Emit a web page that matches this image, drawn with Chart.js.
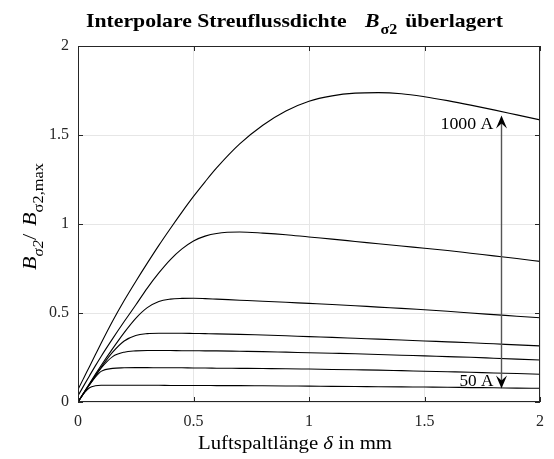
<!DOCTYPE html>
<html>
<head>
<meta charset="utf-8">
<script src="https://cdn.jsdelivr.net/npm/chart.js@4.4.1/dist/chart.umd.min.js"></script>
<style>
  html, body { margin: 0; padding: 0; background: #fff; }
  #wrap { width: 554px; height: 459px; }
</style>
</head>
<body>
<div id="wrap"><canvas id="myChart" width="554" height="459"></canvas></div>
<script>
// Luftspaltlänge in mm
const xValues = [0, 0.025, 0.05, 0.075, 0.1, 0.15, 0.2, 0.25, 0.3, 0.35, 0.4, 0.45, 0.5, 0.55, 0.6, 0.7, 0.8, 0.9, 1.0, 1.1, 1.2, 1.3, 1.4, 1.5, 1.6, 1.7, 1.8, 1.9, 2.0];

// B_sigma2 / B_sigma2,max, from 1000 A (top) down to 50 A (bottom)
const b1000 = [0.07, 0.135, 0.2, 0.265, 0.33, 0.455, 0.57, 0.677, 0.78, 0.88, 0.975, 1.067, 1.155, 1.237, 1.315, 1.45, 1.555, 1.635, 1.69, 1.72, 1.735, 1.738, 1.732, 1.715, 1.693, 1.668, 1.641, 1.613, 1.585];
const bCurve2 = [0.035, 0.092, 0.148, 0.203, 0.256, 0.356, 0.452, 0.545, 0.64, 0.725, 0.8, 0.86, 0.905, 0.932, 0.947, 0.955, 0.949, 0.94, 0.927, 0.915, 0.902, 0.889, 0.876, 0.864, 0.851, 0.836, 0.821, 0.806, 0.79];
const bCurve3 = [0, 0.052, 0.104, 0.155, 0.205, 0.3, 0.39, 0.47, 0.53, 0.565, 0.578, 0.582, 0.583, 0.581, 0.578, 0.572, 0.566, 0.56, 0.554, 0.548, 0.541, 0.533, 0.526, 0.518, 0.51, 0.5, 0.491, 0.482, 0.473];
const bCurve4 = [0, 0.05, 0.1, 0.148, 0.195, 0.28, 0.343, 0.374, 0.384, 0.386, 0.386, 0.386, 0.385, 0.384, 0.383, 0.38, 0.376, 0.372, 0.367, 0.363, 0.358, 0.353, 0.348, 0.343, 0.338, 0.333, 0.327, 0.321, 0.315];
const bCurve5 = [0, 0.05, 0.098, 0.145, 0.19, 0.255, 0.28, 0.287, 0.289, 0.289, 0.289, 0.288, 0.288, 0.287, 0.287, 0.285, 0.283, 0.28, 0.277, 0.274, 0.271, 0.267, 0.263, 0.259, 0.255, 0.251, 0.246, 0.241, 0.236];
const bCurve6 = [0, 0.05, 0.097, 0.14, 0.172, 0.189, 0.192, 0.193, 0.193, 0.192, 0.192, 0.192, 0.191, 0.191, 0.19, 0.189, 0.188, 0.187, 0.185, 0.183, 0.181, 0.179, 0.176, 0.173, 0.17, 0.167, 0.163, 0.16, 0.156];
const b50 = [0, 0.048, 0.08, 0.091, 0.094, 0.094, 0.094, 0.094, 0.094, 0.094, 0.093, 0.093, 0.093, 0.093, 0.092, 0.092, 0.091, 0.09, 0.089, 0.088, 0.087, 0.086, 0.085, 0.084, 0.083, 0.081, 0.08, 0.078, 0.077];

const curves = [b1000, bCurve2, bCurve3, bCurve4, bCurve5, bCurve6, b50];

const xTicks = [0, 0.5, 1, 1.5, 2];
const yTicks = [0, 0.5, 1, 1.5, 2];

// arrow 1000 A -> 50 A (data units)
const arrowX = 1.831;
const arrowTop = 1.61;
const arrowBottom = 0.076;
const arrowLabels = ['1000 A', '50 A'];

const SERIF = '"Liberation Serif", "DejaVu Serif", serif';
const INK = '#262626';

// draws text parts ({t, it, b, sub}) from x on baseline y, squeezed/stretched to width w
function drawParts(ctx, parts, x, y, size, w) {
    const fontOf = (p) => {
        const s = p.sub ? Math.round(size * 0.72) : size;
        return (p.it ? 'italic ' : '') + (p.b ? 'bold ' : '') + s + 'px ' + SERIF;
    };
    let total = 0;
    parts.forEach((p) => { ctx.font = fontOf(p); total += ctx.measureText(p.t).width + (p.gap || 0); });
    const k = w ? w / total : 1;
    ctx.save();
    ctx.translate(x, y);
    ctx.scale(k, 1);
    ctx.textAlign = 'left';
    ctx.textBaseline = 'alphabetic';
    let cx = 0;
    parts.forEach((p) => {
        ctx.font = fontOf(p);
        ctx.fillText(p.t, cx, p.sub ? size * 0.35 : 0);
        cx += ctx.measureText(p.t).width + (p.gap || 0);
    });
    ctx.restore();
}

const framePlugin = {
    id: 'framePlugin',
    afterDraw(chart) {
        const { ctx, chartArea: a, scales: { x, y } } = chart;
        ctx.save();
        ctx.strokeStyle = INK;
        ctx.lineWidth = 1;
        ctx.strokeRect(Math.round(a.left) + 0.5, Math.round(a.top) + 0.5, Math.round(a.width) - 1, Math.round(a.height) - 1);
        ctx.beginPath();
        xTicks.forEach((v) => {
            const px = Math.round(x.getPixelForValue(v)) + 0.5;
            ctx.moveTo(px, a.bottom); ctx.lineTo(px, a.bottom - 5);
            ctx.moveTo(px, a.top); ctx.lineTo(px, a.top + 5);
        });
        yTicks.forEach((v) => {
            const py = Math.round(y.getPixelForValue(v)) + 0.5;
            ctx.moveTo(a.left, py); ctx.lineTo(a.left + 5, py);
            ctx.moveTo(a.right, py); ctx.lineTo(a.right - 5, py);
        });
        ctx.stroke();

        // double arrow
        const ax = Math.round(x.getPixelForValue(arrowX)) + 0.5;
        const yt = y.getPixelForValue(arrowTop);
        const yb = y.getPixelForValue(arrowBottom);
        ctx.strokeStyle = '#555';
        ctx.lineWidth = 1.4;
        ctx.beginPath(); ctx.moveTo(ax, yt + 6); ctx.lineTo(ax, yb - 6); ctx.stroke();
        ctx.fillStyle = '#000';
        const head = (tipY, dir) => {
            ctx.beginPath();
            ctx.moveTo(ax, tipY);
            ctx.lineTo(ax + 5.5, tipY + dir * 13);
            ctx.lineTo(ax, tipY + dir * 8);
            ctx.lineTo(ax - 5.5, tipY + dir * 13);
            ctx.closePath();
            ctx.fill();
        };
        head(yt, 1);
        head(yb, -1);

        ctx.fillStyle = '#000';
        drawParts(ctx, [{ t: arrowLabels[0] }], ax - 61, yt + 14, 16, 53);
        drawParts(ctx, [{ t: arrowLabels[1] }], ax - 42, yb - 2, 16, 34);

        // title
        drawParts(ctx, [
            { t: 'Interpolare Streuflussdichte', b: true, gap: 16 },
            { t: 'B', b: true, it: true, gap: 1 },
            { t: 'σ2', b: true, sub: true, gap: 7 },
            { t: 'überlagert', b: true }
        ], 86, 27, 19, 417);

        // x label
        drawParts(ctx, [
            { t: 'Luftspaltlänge ' },
            { t: 'δ', it: true },
            { t: ' in mm' }
        ], 198, 449, 19, 194);

        // y label
        ctx.save();
        ctx.translate(36, 270);
        ctx.rotate(-Math.PI / 2);
        drawParts(ctx, [
            { t: 'B', it: true },
            { t: 'σ2', it: true, sub: true },
            { t: '/ ', gap: 2 },
            { t: 'B', it: true },
            { t: 'σ2,max', sub: true }
        ], 0, 0, 19, 107);
        ctx.restore();
        ctx.restore();
    }
};

const datasets = curves.map((c) => ({
    data: xValues.map((xv, i) => ({ x: xv, y: c[i] })),
    borderColor: '#000',
    borderWidth: 1.1,
    pointRadius: 0,
    cubicInterpolationMode: 'monotone',
    fill: false
}));

const ctx = document.getElementById('myChart').getContext('2d');
const myChart = new Chart(ctx, {
    type: 'line',
    data: { datasets: datasets },
    options: {
        responsive: false,
        animation: false,
        devicePixelRatio: 1,
        layout: { padding: { top: 46, right: 8, left: 0, bottom: 0 } },
        plugins: { legend: { display: false }, tooltip: { enabled: false }, title: { display: false } },
        scales: {
            x: {
                type: 'linear',
                min: 0, max: 2,
                afterBuildTicks: (s) => { s.ticks = xTicks.map((v) => ({ value: v })); },
                afterFit: (s) => { s.height = 57; },
                grid: { color: '#e6e6e6', drawTicks: false },
                border: { display: false },
                ticks: {
                    padding: 10, color: INK, maxRotation: 0,
                    font: { family: SERIF, size: 16 },
                    callback: (v) => String(v)
                }
            },
            y: {
                type: 'linear',
                min: 0, max: 2,
                afterBuildTicks: (s) => { s.ticks = yTicks.map((v) => ({ value: v })); },
                afterFit: (s) => { s.width = 78; },
                grid: { color: '#e6e6e6', drawTicks: false },
                border: { display: false },
                ticks: {
                    padding: 9, color: INK,
                    font: { family: SERIF, size: 16 },
                    callback: (v) => String(v)
                }
            }
        }
    },
    plugins: [framePlugin]
});
</script>
</body>
</html>
